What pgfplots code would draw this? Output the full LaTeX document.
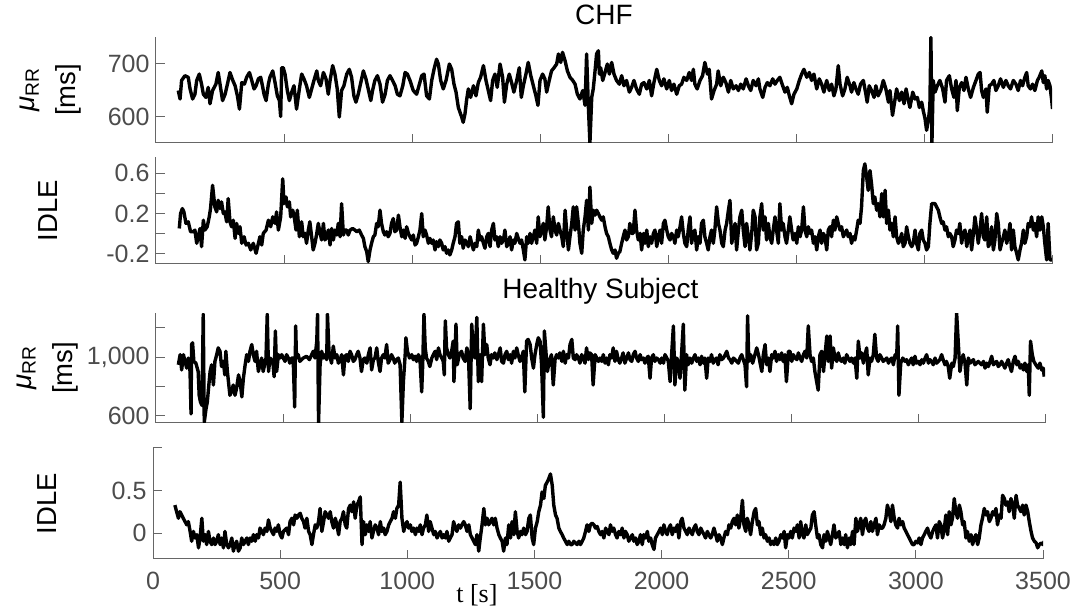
\documentclass[border=0pt]{standalone}
\usepackage{pgfplots}
\pgfplotsset{compat=1.18}
\usepackage{fontspec}
\setmainfont{Liberation Sans}
\newfontfamily\timesfont{Liberation Serif}
\definecolor{axgray}{rgb}{0.40,0.40,0.40}
\definecolor{labgray}{rgb}{0.30,0.30,0.30}
\pgfplotsset{
  myax/.style={
    scale only axis, anchor=south west,
    xmin=0, xmax=3500,
    axis x line*=bottom, axis y line*=left,
    axis line style={-, line width=1pt, draw=axgray},
    tick align=inside, major tick length=9pt,
    tick style={line width=1pt, draw=axgray},
    xtick={0,500,1000,1500,2000,2500,3000,3500},
    tick label style={font=\fontsize{25}{30}\selectfont, text=labgray},
    yticklabel style={xshift=-3pt},
    xticklabel style={yshift=-10pt},
    title style={font=\fontsize{28}{32}\selectfont, anchor=base},
  },
  dat/.style={black, line width=3.4pt, line join=round, no markers},
  ylab/.style={every axis y label/.style={at={(axis description cs:#1,0.5)}, rotate=90, anchor=center, align=center, font=\fontsize{27.5}{41}\selectfont}}
}
\newcommand{\muRR}{{\itshape μ}\textsubscript{RR}}
\begin{document}
\begin{tikzpicture}
\path[use as bounding box] (0,0) rectangle (1084pt,610pt);
% ---------------- Panel 1: CHF mu_RR
\begin{axis}[myax, at={(156pt,467pt)}, width=896pt, height=106pt,
  ymin=550, ymax=750, ytick={600,700}, yticklabels={600,700}, xticklabels={,,,,,,,},
  title={CHF}, title style={at={(axis description cs:0.5,1)}, yshift=6pt},
  ylab=-0.118, ylabel={\muRR\\{}[ms]}]
\addplot[dat] coordinates {(87,649)(94,633)(100,668)(113,677)(126,674)(133,652)(143,633)(152,642)(159,668)(169,680)(178,661)(185,642)(195,636)(204,655)(211,624)(221,649)(234,661)(243,683)(253,652)(260,630)(270,642)(279,661)(289,683)(300,668)(309,658)(318,639)(326,614)(335,664)(345,661)(354,674)(365,683)(374,668)(383,652)(391,658)(400,671)(409,674)(417,655)(422,642)(430,630)(439,661)(445,674)(456,686)(465,664)(474,639)(482,630)(487,600)(491,692)(497,692)(504,680)(513,649)(521,630)(530,646)(539,658)(549,614)(560,652)(569,680)(578,671)(588,658)(599,636)(608,652)(617,668)(628,686)(634,668)(643,658)(654,683)(664,671)(673,642)(680,668)(690,696)(699,680)(708,652)(716,599)(725,649)(734,658)(745,680)(755,689)(764,674)(773,639)(781,627)(790,642)(800,664)(810,686)(820,671)(829,652)(839,630)(846,649)(855,668)(865,677)(875,661)(885,627)(895,642)(904,668)(914,677)(924,668)(934,658)(943,642)(953,639)(964,658)(973,683)(982,680)(992,668)(1005,649)(1018,642)(1029,661)(1038,677)(1047,680)(1057,639)(1068,633)(1077,668)(1086,689)(1096,708)(1103,699)(1112,668)(1122,652)(1133,668)(1146,699)(1155,689)(1164,661)(1172,646)(1181,617)
(1194,599)(1200,589)(1207,605)(1213,630)(1220,652)(1229,636)(1240,658)(1250,639)(1259,664)(1268,674)(1279,696)(1289,668)(1298,649)(1307,630)(1315,668)(1324,680)(1333,655)(1344,699)(1354,674)(1361,627)(1370,661)(1380,680)(1389,664)(1398,646)(1409,668)(1419,692)(1427,636)(1435,658)(1445,680)(1454,702)(1464,677)(1474,658)(1484,639)(1492,621)(1500,668)(1510,680)(1519,671)(1526,646)(1536,668)(1545,686)(1555,692)(1565,699)(1572,718)(1581,702)(1588,721)(1598,705)(1607,686)(1617,674)(1628,668)(1637,661)(1646,642)(1656,633)(1667,649)(1676,621)(1682,718)(1689,618)(1695,550)(1702,636)(1708,652)(1715,686)(1721,718)(1728,724)(1732,680)(1737,692)(1745,668)(1754,683)(1763,699)(1771,680)(1780,702)(1789,680)(1799,668)(1810,661)(1819,677)(1828,658)(1838,668)(1849,646)(1858,655)(1867,668)(1877,652)(1888,642)(1897,661)(1906,664)(1917,652)(1927,668)(1936,639)(1945,664)(1956,689)(1966,668)(1975,658)(1984,671)(1995,652)(2005,668)(2014,649)(2023,661)(2034,642)(2044,658)(2053,661)(2062,674)(2073,668)(2083,683)(2092,668)(2099,689)(2105,661)(2114,652)(2125,668)(2135,677)(2144,702)(2154,680)(2161,689)(2170,633)(2180,649)(2190,661)(2196,686)(2206,658)(2216,674)(2226,664)(2236,646)(2245,668)(2255,652)(2266,658)(2275,649)(2284,661)(2294,652)(2305,671)(2314,658)(2323,649)(2333,668)(2344,658)(2353,671)
(2359,652)(2370,636)(2379,655)(2388,664)(2398,658)(2409,671)(2418,661)(2427,668)(2437,674)(2448,658)(2457,646)(2466,655)(2474,639)(2483,624)(2492,642)(2503,652)(2513,668)(2522,680)(2531,689)(2542,674)(2552,683)(2561,668)(2570,680)(2581,652)(2591,671)(2600,661)(2609,646)(2620,668)(2630,649)(2639,661)(2648,639)(2656,652)(2665,696)(2672,661)(2682,639)(2691,652)(2700,674)(2711,658)(2717,646)(2726,664)(2734,652)(2743,642)(2752,661)(2763,668)(2773,642)(2778,627)(2786,658)(2795,649)(2805,636)(2812,658)(2821,639)(2831,649)(2841,668)(2851,652)(2861,627)(2867,649)(2877,602)(2887,633)(2893,652)(2904,630)(2913,646)(2922,624)(2930,652)(2939,630)(2945,617)(2956,646)(2965,633)(2974,636)(2982,617)(2991,627)(2997,611)(3004,596)(3010,574)(3017,592)(3023,621)(3027,749)(3031,550)(3036,668)(3043,646)(3052,658)(3062,668)(3073,652)(3082,627)(3088,668)(3099,677)(3108,652)(3117,636)(3125,668)(3130,611)(3138,655)(3147,664)(3156,649)(3164,674)(3173,652)(3182,636)(3193,655)(3203,668)(3212,680)(3219,683)(3225,649)(3232,636)(3242,652)(3247,608)(3255,658)(3264,661)(3273,668)(3281,649)(3290,658)(3299,671)(3310,655)(3320,668)(3329,658)(3338,652)(3349,668)(3359,661)(3368,649)(3377,668)(3385,658)(3394,674)(3401,683)(3407,658)(3416,652)(3424,661)(3433,649)(3443,668)(3450,674)(3460,686)(3466,664)(3472,677)(3479,652)(3485,668)(3492,658)(3499,630)(3502,614)};
\end{axis}
% ---------------- Panel 2: CHF IDLE
\begin{axis}[myax, at={(156pt,346pt)}, width=896pt, height=107pt,
  ymin=-0.3, ymax=0.76, ytick={-0.2,0,0.2,0.4,0.6}, yticklabels={-0.2,,0.2,,0.6}, xticklabels={,,,,,,,},
  ylab=-0.1205, ylabel={IDLE}]
\addplot[dat] coordinates {(91,0.052)(96,0.200)(103,0.249)(109,0.216)(117,0.102)(126,0.118)(135,0.020)(146,0.020)(152,0.036)(159,-0.095)(165,-0.030)(172,0.052)(178,-0.128)(185,0.134)(191,0.036)(200,0.069)(208,0.167)(213,0.249)(221,0.479)(230,0.266)(237,0.216)(243,0.331)(250,0.249)(256,0.315)(263,0.200)(269,0.216)(276,0.118)(282,0.348)(289,0.118)(295,0.069)(302,0.134)(309,-0.046)(315,0.102)(322,0.003)(328,0.069)(335,-0.095)(344,-0.030)(352,-0.112)(361,-0.095)(370,-0.161)(380,-0.095)(391,-0.194)(400,-0.095)(406,-0.030)(413,-0.112)(419,0.003)(430,0.036)(439,0.134)(448,0.069)(456,0.167)(465,0.102)(471,0.216)(478,0.036)(487,0.167)(495,0.544)(500,0.298)(508,0.364)(513,0.266)(521,0.315)(526,0.167)(534,0.233)(539,0.184)(547,0.036)(552,0.233)(560,-0.030)(569,0.118)(575,-0.030)(582,0.003)(588,-0.095)(595,0.036)(601,0.118)(608,-0.030)(614,-0.161)(621,-0.095)(628,0.003)(634,0.102)(641,0.003)(647,-0.062)(654,0.102)(660,-0.062)(667,-0.030)(673,0.036)(680,-0.112)(686,0.052)(693,-0.062)(699,0.036)(706,-0.013)(712,0.102)(719,-0.030)(725,0.298)(732,-0.013)(738,0.036)(745,0.036)(751,-0.013)(758,0.036)(768,0.052)(777,0.036)(784,0.020)(794,0.036)(803,-0.013)(810,-0.046)(816,-0.128)(823,-0.177)(829,-0.276)(836,-0.161)(842,-0.095)(849,-0.030)(855,-0.013)(862,0.102)(868,0.069)(875,0.233)(881,0.102)(888,0.020)(894,-0.013)(901,0.020)(907,-0.030)(914,0.003)(920,0.102)(927,0.151)(933,0.020)(940,0.036)(947,0.184)(953,0.069)(960,-0.030)(966,0.036)(973,-0.046)(979,0.069)(986,0.003)(992,-0.030)(999,-0.062)(1005,-0.013)(1012,-0.112)(1018,-0.095)(1025,-0.030)(1031,0.036)(1038,0.200)(1044,-0.030)(1051,0.036)(1057,-0.013)(1064,-0.095)(1070,-0.046)(1077,-0.095)(1083,-0.062)(1090,-0.161)(1096,-0.079)(1103,-0.128)(1109,-0.062)(1116,-0.095)(1122,-0.161)(1129,-0.128)(1135,-0.194)(1142,-0.161)(1148,-0.210)(1155,-0.161)(1161,-0.095)(1168,-0.030)(1174,0.102)(1181,0.118)
(1187,-0.095)(1194,-0.030)(1200,-0.144)(1207,-0.062)(1214,-0.095)(1220,-0.128)(1227,-0.030)(1233,-0.095)(1240,-0.161)(1246,-0.095)(1253,-0.128)(1259,0.036)(1266,-0.062)(1272,-0.030)(1279,-0.095)(1285,-0.144)(1292,-0.030)(1298,0.003)(1305,-0.128)(1311,0.036)(1318,0.102)(1324,-0.062)(1331,-0.030)(1337,-0.128)(1344,-0.030)(1350,-0.095)(1357,-0.062)(1363,0.036)(1370,-0.128)(1376,-0.095)(1383,-0.030)(1389,-0.161)(1396,-0.062)(1402,-0.095)(1409,0.003)(1415,-0.046)(1422,-0.095)(1428,-0.062)(1435,-0.161)(1441,-0.259)(1448,-0.030)(1454,-0.095)(1461,0.003)(1467,-0.095)(1474,-0.030)(1480,0.036)(1487,-0.095)(1493,0.167)(1500,-0.030)(1506,0.036)(1513,0.102)(1519,-0.062)(1526,0.069)(1532,0.266)(1539,0.036)(1545,-0.030)(1552,0.167)(1559,0.036)(1565,-0.013)(1572,0.102)(1578,0.036)(1585,-0.030)(1591,-0.128)(1598,0.233)(1604,0.036)(1611,-0.161)(1617,-0.030)(1624,0.102)(1630,0.266)(1637,0.036)(1643,0.266)(1650,0.102)(1656,-0.095)(1663,-0.194)(1669,0.036)(1676,0.167)(1682,0.331)(1689,0.036)(1695,0.462)(1702,0.102)(1708,0.233)(1715,0.184)(1721,0.233)(1728,0.200)(1734,0.167)(1741,0.134)(1747,0.167)(1754,0.069)(1760,0.003)(1767,-0.030)(1773,-0.095)(1780,-0.161)(1786,-0.194)(1793,-0.161)(1799,-0.243)(1806,-0.194)(1812,-0.177)(1819,-0.095)(1825,-0.030)(1832,0.036)(1838,-0.062)(1845,-0.030)(1851,0.102)(1858,0.003)(1864,0.003)(1871,0.233)(1877,0.036)(1884,-0.062)(1891,0.003)(1897,-0.161)(1904,0.003)(1910,-0.095)(1917,0.036)(1923,-0.128)(1930,-0.030)(1936,-0.095)(1943,0.003)(1949,0.036)(1956,-0.128)(1962,-0.030)(1969,0.036)(1975,-0.095)(1982,0.102)(1988,0.134)(1995,0.036)(2001,-0.030)(2008,-0.062)(2014,0.003)(2021,-0.030)(2027,-0.095)(2034,0.036)(2040,-0.030)(2047,0.069)(2053,0.167)(2060,0.003)(2066,-0.095)(2073,-0.128)(2079,0.036)(2086,0.167)(2092,-0.095)(2099,0.003)(2105,0.036)(2112,-0.161)(2118,-0.030)(2125,-0.095)(2131,0.102)(2138,0.134)(2144,-0.030)(2151,-0.095)(2157,-0.161)(2164,-0.030)(2170,0.036)(2177,-0.095)(2183,0.036)(2190,0.266)(2197,0.102)(2203,0.036)(2210,-0.095)(2216,-0.128)(2223,0.036)(2229,0.102)(2236,0.233)(2242,0.331)(2249,-0.095)(2255,0.003)(2262,0.102)(2268,-0.161)(2275,0.036)(2281,0.167)(2288,0.233)(2294,0.036)(2301,-0.128)(2307,0.102)(2314,-0.030)(2320,-0.161)(2327,0.003)(2333,0.233)(2340,0.167)(2346,-0.161)(2353,-0.095)
(2359,0.167)(2366,0.298)(2372,0.036)(2379,0.167)(2385,-0.062)(2392,0.102)(2398,-0.030)(2405,-0.095)(2411,0.036)(2418,0.167)(2424,0.036)(2431,-0.095)(2437,0.298)(2444,0.036)(2450,0.102)(2457,-0.030)(2463,-0.095)(2470,0.036)(2476,0.167)(2483,0.036)(2489,-0.062)(2496,0.003)(2503,-0.095)(2509,0.069)(2516,-0.030)(2522,0.036)(2529,0.266)(2535,0.036)(2542,-0.030)(2548,0.069)(2555,0.003)(2561,0.036)(2568,-0.095)(2574,-0.030)(2581,-0.161)(2587,-0.030)(2594,0.036)(2600,-0.095)(2607,0.003)(2613,-0.030)(2620,-0.161)(2626,0.036)(2633,0.069)(2639,-0.030)(2646,0.134)(2652,0.036)(2659,0.167)(2665,0.102)(2672,0.036)(2678,0.069)(2685,-0.030)(2691,0.003)(2698,0.036)(2704,-0.030)(2711,0.003)(2717,-0.095)(2724,-0.030)(2730,-0.062)(2737,0.036)(2743,0.134)(2750,0.102)(2756,0.266)(2763,0.626)(2769,0.692)(2776,0.561)(2782,0.430)(2789,0.626)(2795,0.495)(2802,0.298)(2808,0.364)(2815,0.233)(2821,0.298)(2828,0.167)(2835,0.397)(2841,0.167)(2848,0.430)(2854,0.102)(2861,0.233)(2867,0.036)(2874,0.102)(2880,-0.030)(2887,0.167)(2893,-0.030)(2900,-0.095)(2906,-0.062)(2913,0.003)(2919,-0.128)(2926,-0.095)(2932,0.069)(2939,-0.030)(2945,-0.095)(2952,-0.128)(2958,-0.095)(2965,0.036)(2971,-0.095)(2978,-0.161)(2984,0.003)(2991,0.036)(2997,-0.062)(3004,-0.095)(3010,-0.161)(3017,-0.128)(3023,0.102)(3030,0.298)(3036,0.298)(3043,0.298)(3049,0.266)(3056,0.233)(3062,0.167)(3069,0.102)(3075,0.118)(3082,0.036)(3088,0.069)(3095,-0.030)(3101,0.003)(3108,-0.030)(3114,-0.128)(3121,-0.062)(3127,0.036)(3134,0.003)(3140,0.102)(3147,-0.095)(3153,0.003)(3160,0.036)(3167,-0.128)(3173,-0.030)(3180,0.036)(3186,-0.161)(3193,0.003)(3199,0.167)(3206,0.036)(3212,-0.095)(3219,0.036)(3225,0.200)(3232,-0.030)(3238,-0.062)(3245,0.167)(3251,-0.128)(3258,-0.095)(3264,0.069)(3271,-0.161)(3277,-0.062)(3284,0.200)(3290,0.102)(3297,-0.161)(3303,-0.095)(3310,-0.030)(3316,0.036)(3323,-0.095)(3329,-0.030)(3336,0.102)(3342,-0.161)(3349,0.036)(3355,-0.128)(3362,-0.194)(3368,-0.259)(3375,-0.161)(3381,-0.095)(3388,0.036)(3394,-0.095)(3401,-0.030)(3407,0.102)(3414,0.069)(3420,0.167)(3427,0.036)(3433,0.102)(3440,-0.030)(3446,0.167)(3453,0.036)(3460,0.167)(3466,0.069)(3472,-0.095)(3479,-0.259)(3485,0.102)(3492,-0.259)(3499,-0.259)};
\end{axis}
% ---------------- Panel 3: Healthy mu_RR
\begin{axis}[myax, at={(156pt,187pt)}, width=889pt, height=110pt,
  ymin=550, ymax=1300, ytick={600,800,1000,1200}, yticklabels={600,,{1,000},}, xticklabels={,,,,,,,},
  title={Healthy Subject}, title style={at={(axis description cs:0.5,1)}, yshift=9pt},
  ylab=-0.1225, ylabel={\muRR\\{}[ms]}]
\addplot[dat] coordinates {(88,947)(95,1016)(101,912)(108,1016)(114,970)(121,924)(127,993)(134,901)(138,612)(140,1085)(144,1097)(149,970)(157,958)(166,901)(170,739)(175,693)(181,670)(186,1293)(190,555)(197,647)(202,693)(208,809)(213,901)(219,947)(226,809)(232,970)(239,1016)(245,1062)(252,1039)(258,935)(265,970)(271,878)(275,1039)(281,901)(286,820)(291,739)(297,762)(304,809)(311,739)(317,785)(325,878)(331,832)(338,728)(344,855)(351,947)(357,1016)(364,970)(370,1039)(377,1085)(383,1016)(390,970)(396,1039)(403,901)(409,947)(416,993)(422,901)(433,993)(438,1293)(443,901)(449,993)(460,970)(465,866)(470,1178)(475,901)(482,1016)(488,993)(495,1016)(501,993)(508,970)(514,1016)(521,993)(527,958)(534,993)(540,993)(546,659)(550,1212)(553,993)(560,1016)(566,970)(573,982)(580,993)(593,1005)(604,982)(613,1016)(619,1039)(626,993)(633,1108)(636,1293)(640,550)(646,947)(652,1039)(659,993)(665,1016)(672,982)(675,1293)(681,1039)(685,1005)(691,958)(698,1074)(705,993)(712,1016)(718,958)(725,982)(731,1016)(738,878)(744,1005)(751,1016)(757,970)(764,1039)(770,1016)(777,970)(783,982)(790,1016)(796,1039)(803,993)(809,901)(816,982)(822,993)(830,958)(836,1016)(843,1062)(849,912)(856,982)(862,993)(869,1062)(875,970)(882,901)(888,993)(895,1016)(901,993)(908,1085)(914,958)(921,982)(927,1016)(934,993)(940,958)(947,982)(954,993)(961,947)(968,555)(974,832)(981,1016)(984,1131)(990,1039)(998,993)(1007,1016)(1013,982)(1020,1005)(1026,970)(1033,1016)(1039,993)(1046,762)(1050,947)(1055,1293)(1060,1062)(1065,993)(1072,970)(1078,935)(1086,993)(1092,1016)(1099,1039)(1105,982)(1112,1062)(1118,1016)(1125,993)(1131,970)(1135,878)(1139,1247)(1144,1062)(1151,1016)(1157,993)(1164,1039)(1170,1108)(1173,832)(1177,993)(1181,1224)(1186,947)(1194,1016)
(1203,1039)(1209,993)(1217,970)(1224,1062)(1230,1016)(1237,647)(1243,1224)(1250,1016)(1256,993)(1263,1270)(1269,832)(1276,1016)(1282,832)(1289,1224)(1295,1016)(1302,1085)(1308,993)(1315,947)(1321,1016)(1328,993)(1334,1028)(1342,982)(1348,1016)(1355,1062)(1361,970)(1368,958)(1374,1016)(1381,1039)(1387,982)(1394,1016)(1400,958)(1407,1039)(1413,993)(1420,1062)(1426,1016)(1433,970)(1439,993)(1446,1039)(1452,762)(1459,1108)(1465,1120)(1473,1085)(1479,993)(1486,924)(1492,1016)(1499,1085)(1505,1131)(1512,1108)(1518,947)(1525,589)(1529,1178)(1535,1039)(1541,901)(1548,970)(1557,1016)(1564,809)(1571,982)(1577,1016)(1584,993)(1590,1028)(1598,970)(1604,1039)(1611,958)(1617,1016)(1624,993)(1630,1085)(1637,1120)(1643,993)(1650,982)(1656,1016)(1663,993)(1669,958)(1676,1016)(1682,993)(1689,958)(1695,1062)(1702,982)(1708,1028)(1715,1016)(1721,809)(1729,1016)(1735,993)(1742,970)(1748,993)(1755,970)(1761,1016)(1768,958)(1774,993)(1781,947)(1787,1016)(1794,993)(1800,1062)(1807,970)(1813,1039)(1820,982)(1826,958)(1833,993)(1839,1028)(1846,958)(1853,993)(1860,1028)(1866,982)(1873,970)(1879,1016)(1886,1039)(1892,993)(1899,970)(1906,1016)(1912,982)(1919,993)(1925,958)(1932,993)(1938,1005)(1945,855)(1951,993)(1958,1016)(1964,970)(1971,993)(1978,982)(1985,958)(1991,993)(1998,958)(2004,1016)(2011,993)(2017,970)(2024,832)(2030,1016)(2037,1212)(2043,809)(2050,993)(2056,970)(2063,855)(2069,1016)(2076,1224)(2082,774)(2089,1016)(2095,947)(2102,993)(2109,958)(2116,993)(2122,1016)(2129,970)(2135,993)(2142,947)(2148,1005)(2155,958)(2161,993)(2168,855)(2174,993)(2181,970)(2187,1016)(2194,958)(2200,982)(2207,993)(2213,947)(2220,1016)(2227,982)(2234,993)(2241,1016)(2247,1039)(2254,993)(2260,982)(2267,958)(2273,993)(2280,982)(2286,970)(2293,958)(2299,993)(2306,1016)(2312,982)(2319,947)(2325,797)(2329,1281)(2334,970)(2341,1016)(2349,958)(2358,1016)(2365,1062)(2372,1016)
(2385,901)(2391,1016)(2398,1085)(2404,947)(2411,993)(2417,901)(2424,1016)(2430,993)(2437,1039)(2443,970)(2450,1016)(2456,982)(2463,1028)(2469,970)(2476,1016)(2482,832)(2490,1039)(2496,1039)(2503,970)(2509,1016)(2516,993)(2523,982)(2529,1028)(2536,993)(2542,970)(2549,1016)(2555,1039)(2562,993)(2568,1212)(2575,1016)(2581,970)(2588,993)(2594,901)(2601,832)(2607,774)(2614,1016)(2621,1039)(2628,901)(2634,1016)(2641,1143)(2647,970)(2654,1143)(2660,924)(2667,1062)(2673,993)(2680,970)(2686,1028)(2693,982)(2699,970)(2706,993)(2712,958)(2719,1016)(2725,993)(2732,970)(2738,993)(2746,958)(2752,993)(2759,855)(2765,1108)(2772,993)(2778,1028)(2785,958)(2791,1016)(2798,1062)(2804,878)(2811,993)(2817,970)(2824,1016)(2830,1155)(2837,993)(2843,970)(2850,1016)(2857,993)(2863,970)(2870,982)(2877,993)(2884,958)(2890,982)(2897,993)(2903,947)(2910,1016)(2916,993)(2920,1212)(2925,739)(2932,958)(2940,993)(2949,970)(2955,982)(2962,947)(2968,970)(2975,993)(2981,947)(2988,1005)(2994,958)(3002,970)(3008,947)(3015,982)(3021,958)(3028,993)(3034,1016)(3041,958)(3047,982)(3054,970)(3060,947)(3067,993)(3073,958)(3080,970)(3086,982)(3093,1016)(3099,982)(3106,947)(3112,970)(3119,935)(3125,855)(3133,958)(3139,935)(3146,993)(3152,1300)(3159,1085)(3165,901)(3172,982)(3178,1016)(3185,958)(3192,809)(3198,993)(3205,958)(3211,970)(3218,982)(3224,947)(3231,958)(3237,970)(3244,958)(3250,947)(3258,970)(3264,924)(3271,958)(3277,935)(3284,970)(3290,1005)(3297,947)(3303,958)(3310,970)(3316,935)(3323,947)(3329,970)(3336,947)(3342,924)(3349,958)(3355,982)(3362,935)(3368,901)(3375,970)(3382,1005)(3389,947)(3395,970)(3402,924)(3408,947)(3415,912)(3421,958)(3428,901)(3434,947)(3438,739)(3443,1108)(3450,1016)(3456,970)(3464,947)(3473,924)(3480,958)(3487,912)(3493,924)(3497,866)};
\end{axis}
% ---------------- Panel 4: Healthy IDLE
\begin{axis}[myax, at={(153pt,51pt)}, width=890pt, height=111pt,
  ymin=-0.3, ymax=1, ytick={0,0.5,1}, yticklabels={0,0.5,},
  xticklabels={0,500,1000,1500,2000,2500,3000,3500},
  ylab=-0.119, ylabel={IDLE},
  xlabel={t [s]}, xlabel style={at={(axis description cs:0.364,0)}, anchor=base, yshift=-43pt, font=\timesfont\fontsize{26}{30}\selectfont}]
\addplot[dat] coordinates {(86,0.331)(93,0.254)(100,0.177)(106,0.254)(113,0.215)(119,0.177)(126,0.138)(133,0.100)(139,0.138)(146,0.023)(152,-0.092)(159,0.023)(165,-0.054)(172,-0.015)(179,-0.169)(185,-0.054)(192,0.177)(198,-0.092)(205,-0.015)(211,-0.131)(218,0.023)(224,-0.092)(231,-0.131)(238,-0.054)(244,-0.131)(251,-0.092)(257,-0.015)(264,-0.131)(270,-0.054)(277,-0.169)(283,0.023)(290,-0.131)(297,-0.169)(303,-0.131)(310,-0.054)(316,-0.208)(323,-0.131)(329,-0.092)(336,-0.208)(343,-0.169)(349,-0.054)(356,-0.131)(362,-0.092)(369,-0.054)(375,-0.131)(382,-0.054)(388,-0.092)(395,-0.015)(402,-0.092)(408,-0.015)(415,-0.054)(421,0.062)(428,0.023)(434,-0.015)(441,0.062)(448,0.023)(454,0.158)(461,0.062)(467,0.023)(474,-0.015)(480,0.062)(487,0.023)(493,0.100)(500,-0.015)(507,-0.054)(513,0.023)(526,0.062)(533,-0.015)(539,0.138)(546,0.177)(553,0.100)(559,0.215)(566,0.177)(572,0.215)(579,0.235)(585,0.177)(592,0.138)(598,0.062)(605,0.177)(612,0.023)(618,-0.015)(625,-0.131)(631,-0.015)(638,0.100)(644,0.062)(651,0.138)(657,0.292)(664,0.023)(671,0.138)(677,0.254)(684,0.215)(690,0.177)(697,0.254)(703,0.138)(710,0.062)(717,0.177)(723,0.100)(730,-0.015)(736,0.138)(743,0.177)(749,0.254)(756,0.100)(762,0.062)(769,0.292)(776,0.331)(782,0.254)(789,0.369)(795,0.177)(802,0.331)(808,0.369)(815,0.427)(822,-0.131)(828,0.138)(835,-0.015)(841,0.100)(848,0.023)(854,0.138)(861,-0.054)(867,0.023)(874,0.100)(881,0.062)(887,-0.015)(894,0.138)(900,0.023)(907,0.062)(913,-0.015)(920,0.023)(927,0.100)(933,0.138)(940,0.177)(946,0.254)(953,0.177)(959,0.292)(966,0.331)(972,0.600)(979,0.177)(986,0.023)(992,0.100)(999,0.138)(1005,0.062)(1012,0.100)(1018,0.023)(1025,0.062)(1032,-0.015)(1038,0.062)(1045,0.023)(1051,0.100)(1058,-0.015)(1064,0.062)(1071,0.100)(1077,0.215)(1084,0.023)(1090,0.138)(1097,0.062)(1104,-0.015)(1110,0.023)(1117,-0.054)(1123,-0.015)(1130,0.023)(1137,-0.054)(1143,-0.015)(1150,-0.054)(1156,0.023)(1163,-0.092)(1169,-0.054)(1176,-0.015)(1182,0.138)(1189,0.062)(1195,0.023)(1202,0.100)
(1209,0.062)(1215,0.100)(1222,0.138)(1228,0.100)(1235,0.023)(1242,0.100)(1248,-0.015)(1255,-0.054)(1261,-0.092)(1268,-0.131)(1274,-0.015)(1281,-0.208)(1287,-0.054)(1294,0.100)(1301,0.292)(1307,0.100)(1314,0.177)(1320,0.100)(1327,0.138)(1333,0.177)(1340,0.100)(1346,0.177)(1353,0.062)(1360,-0.015)(1366,-0.054)(1373,-0.092)(1379,-0.208)(1386,-0.054)(1392,-0.131)(1399,0.100)(1406,-0.054)(1412,0.138)(1419,-0.015)(1425,0.254)(1432,0.023)(1438,-0.054)(1445,0.023)(1451,-0.015)(1458,0.062)(1465,-0.015)(1471,0.023)(1478,0.177)(1484,0.215)(1491,-0.054)(1497,-0.131)(1504,0.062)(1511,0.138)(1517,0.254)(1524,0.331)(1530,0.485)(1537,0.408)(1543,0.562)(1550,0.600)(1556,0.638)(1563,0.696)(1570,0.562)(1576,0.331)(1583,0.215)(1589,0.177)(1596,0.062)(1602,0.023)(1609,-0.015)(1615,-0.054)(1622,-0.092)(1629,-0.131)(1635,-0.092)(1642,-0.131)(1648,-0.131)(1655,-0.092)(1661,-0.112)(1668,-0.131)(1675,-0.092)(1681,-0.131)(1688,-0.092)(1694,-0.054)(1701,0.023)(1707,0.100)(1714,0.023)(1720,0.100)(1727,0.119)(1734,0.100)(1740,0.062)(1747,0.081)(1753,0.023)(1760,-0.015)(1766,0.023)(1773,-0.054)(1780,0.062)(1786,0.023)(1793,-0.015)(1799,0.100)(1806,0.023)(1812,0.062)(1819,-0.015)(1825,-0.054)(1832,0.023)(1839,-0.015)(1845,0.062)(1852,-0.054)(1858,0.023)(1865,-0.015)(1871,-0.092)(1878,-0.054)(1885,-0.015)(1891,-0.092)(1898,-0.054)(1904,-0.131)(1911,-0.092)(1917,-0.015)(1924,-0.131)(1930,-0.015)(1937,-0.054)(1944,0.023)(1950,-0.092)(1957,-0.054)(1963,-0.131)(1970,-0.188)(1976,-0.054)(1983,-0.015)(1990,0.023)(1996,0.062)(2003,-0.015)(2009,0.100)(2016,0.023)(2022,-0.015)(2029,0.062)(2035,0.100)(2042,-0.015)(2049,0.062)(2055,0.023)(2062,0.100)(2068,-0.054)(2075,0.138)(2081,0.177)(2088,0.062)(2095,0.023)(2101,-0.015)(2108,0.062)(2114,0.023)(2121,-0.015)(2127,0.062)(2134,0.100)(2140,0.023)(2147,-0.015)(2154,0.062)(2160,0.023)(2167,-0.015)(2173,-0.054)(2180,0.023)(2186,-0.015)(2193,-0.054)(2199,-0.015)(2206,0.062)(2213,-0.015)(2219,-0.092)(2226,-0.015)(2232,-0.054)(2239,-0.131)(2245,-0.054)(2252,0.023)(2259,-0.015)(2265,0.100)(2272,0.062)(2278,0.138)(2285,0.177)(2291,0.100)(2298,0.215)(2304,0.062)(2311,0.177)(2318,0.388)(2324,0.100)(2331,0.023)(2337,0.177)(2344,0.100)(2350,-0.015)(2357,0.138)(2364,0.254)(2370,0.292)(2377,0.100)(2383,0.138)
(2390,-0.015)(2396,0.062)(2403,-0.054)(2409,-0.015)(2416,-0.092)(2423,-0.054)(2429,-0.131)(2436,-0.092)(2442,-0.131)(2449,-0.054)(2455,-0.131)(2462,-0.092)(2469,-0.015)(2475,-0.054)(2482,0.023)(2488,-0.169)(2495,-0.015)(2501,-0.054)(2508,0.023)(2514,-0.054)(2521,0.062)(2528,0.023)(2534,0.100)(2541,-0.054)(2547,0.138)(2554,-0.015)(2560,-0.054)(2567,0.100)(2573,-0.015)(2580,0.023)(2587,0.062)(2593,0.215)(2600,0.254)(2606,0.100)(2613,-0.054)(2619,-0.015)(2626,-0.131)(2633,-0.169)(2639,-0.015)(2646,-0.092)(2652,0.023)(2659,-0.054)(2665,-0.131)(2672,-0.015)(2678,0.100)(2685,-0.054)(2692,-0.015)(2698,0.023)(2705,-0.131)(2711,-0.054)(2718,-0.131)(2724,-0.015)(2731,-0.169)(2738,-0.054)(2744,-0.131)(2751,0.023)(2757,-0.131)(2764,0.177)(2770,0.023)(2777,0.100)(2783,0.177)(2790,-0.015)(2797,0.138)(2803,0.177)(2810,0.062)(2816,0.023)(2823,0.138)(2829,0.023)(2836,0.100)(2843,0.177)(2849,-0.015)(2856,0.100)(2862,0.062)(2869,0.062)(2875,0.100)(2882,0.177)(2888,0.331)(2895,0.254)(2902,0.138)(2908,0.331)(2915,0.177)(2921,0.100)(2928,0.062)(2934,0.177)(2941,0.100)(2948,0.138)(2954,0.062)(2961,0.023)(2967,-0.015)(2974,-0.054)(2980,-0.092)(2987,-0.131)(2993,-0.131)(3000,-0.092)(3007,-0.112)(3013,-0.054)(3020,-0.131)(3026,-0.054)(3033,-0.015)(3039,0.023)(3046,0.062)(3052,-0.015)(3059,-0.054)(3066,0.023)(3072,0.062)(3079,0.100)(3085,-0.054)(3092,0.138)(3098,0.100)(3105,-0.054)(3112,0.062)(3118,0.215)(3125,-0.015)(3131,0.254)(3138,0.100)(3144,0.177)(3151,0.408)(3157,0.254)(3164,0.177)(3171,0.331)(3177,0.254)(3184,0.100)(3190,0.138)(3197,-0.054)(3203,0.023)(3210,-0.092)(3217,-0.015)(3223,-0.131)(3230,-0.054)(3236,-0.015)(3243,-0.131)(3249,-0.054)(3256,0.100)(3262,0.177)(3269,0.292)(3276,0.215)(3282,0.254)(3289,0.138)(3295,0.177)(3302,0.254)(3308,0.215)(3315,0.292)(3321,0.100)(3328,0.215)(3335,0.177)(3341,0.446)(3348,0.408)(3354,0.331)(3361,0.369)(3367,0.254)(3374,0.408)(3381,0.331)(3387,0.177)(3394,0.446)(3400,0.331)(3407,0.292)(3413,0.254)(3420,0.331)(3426,0.215)(3433,0.331)(3440,0.254)(3446,0.138)(3453,0.023)(3459,-0.054)(3466,-0.092)(3473,-0.112)(3479,-0.169)(3486,-0.131)(3492,-0.112)(3499,-0.131)(3505,-0.092)};
\end{axis}
\end{tikzpicture}
\end{document}
